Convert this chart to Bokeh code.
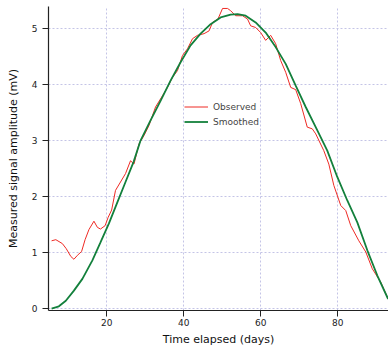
from bokeh.plotting import figure
from bokeh.models import Range1d, FixedTicker, Legend, LegendItem
from bokeh.embed import file_html
from bokeh.resources import INLINE

# Observed (noisy) series
obs_x = [5.7, 6.8, 8.5, 9.5, 10.7, 11.5, 12.4, 13.5, 14.4, 15.4, 16.7, 17.6, 18.4, 19.6,
         20.4, 21.3, 22.3, 23.6, 24.9, 26.2, 27.1, 28.4, 29.7, 31.0, 32.7, 34.5, 35.8,
         37.1, 38.4, 39.7, 41.0, 42.3, 43.6, 45.3, 46.6, 47.5, 48.9, 50.1, 51.4, 52.2,
         53.5, 55.3, 56.6, 57.4, 58.7, 60.0, 61.3, 62.6, 63.9, 65.2, 66.5, 67.8, 69.1,
         70.4, 72.1, 73.4, 74.3, 76.4, 77.7, 79.0, 80.8, 82.1, 83.4, 85.5, 87.3, 89.0,
         91.2, 93.1]
obs_y = [1.21, 1.23, 1.16, 1.07, 0.93, 0.88, 0.95, 1.02, 1.23, 1.41, 1.56, 1.45, 1.42, 1.48,
         1.63, 1.76, 2.11, 2.26, 2.41, 2.64, 2.58, 2.94, 3.09, 3.27, 3.60, 3.80, 3.95,
         4.13, 4.25, 4.52, 4.64, 4.82, 4.88, 4.91, 4.96, 5.11, 5.17, 5.36, 5.36, 5.32,
         5.23, 5.23, 5.17, 5.05, 5.02, 4.93, 4.79, 4.88, 4.73, 4.43, 4.22, 3.95, 3.91,
         3.66, 3.24, 3.21, 3.12, 2.82, 2.58, 2.20, 1.84, 1.75, 1.48, 1.21, 1.01, 0.71,
         0.47, 0.17]

# Smoothed series
fit_x = [5.7, 7.6, 9.4, 11.5, 13.7, 16.3, 18.4, 20.6, 22.8, 24.9, 27.0, 28.8, 31.4, 34.0,
         36.6, 39.2, 41.8, 44.4, 47.0, 49.6, 52.2, 54.0, 56.1, 58.7, 61.3, 63.9, 66.5,
         69.1, 71.7, 74.3, 77.3, 79.9, 82.5, 85.1, 87.7, 90.3, 93.1]
fit_y = [0.00, 0.04, 0.14, 0.32, 0.53, 0.86, 1.18, 1.52, 1.90, 2.26, 2.62, 3.00, 3.36, 3.71,
         4.07, 4.40, 4.70, 4.91, 5.08, 5.20, 5.25, 5.26, 5.23, 5.11, 4.93, 4.67, 4.37,
         3.98, 3.60, 3.24, 2.82, 2.35, 1.93, 1.54, 1.04, 0.59, 0.17]

x_ticks = [20, 40, 60, 80]
y_ticks = [0, 1, 2, 3, 4, 5]
series_names = ["Observed", "Smoothed"]
x_title = "Time elapsed (days)"
y_title = "Measured signal amplitude (mV)"

p = figure(width=388, height=354, output_backend="svg", toolbar_location=None,
           x_range=Range1d(4.9, 93.2), y_range=Range1d(-0.035, 5.395),
           min_border_left=48, min_border_right=0, min_border_top=6, min_border_bottom=44)
p.outline_line_color = None
p.background_fill_color = "white"

r1 = p.line(obs_x, obs_y, line_color="#ee2a24", line_width=1)
r2 = p.line(fit_x, fit_y, line_color="#13803c", line_width=1.8)

p.xaxis.ticker = FixedTicker(ticks=x_ticks)
p.yaxis.ticker = FixedTicker(ticks=y_ticks)
for ax in (p.xaxis, p.yaxis):
    ax.major_tick_out = 6
    ax.major_tick_in = 0
    ax.minor_tick_out = 0
    ax.minor_tick_in = 0
    ax.axis_line_color = "#222222"
    ax.major_tick_line_color = "#222222"
    ax.axis_line_width = 1.2
    ax.major_label_text_font_size = "9px"
    ax.major_label_text_color = "#222222"
    ax.axis_label_text_font_size = "11px"
    ax.axis_label_text_font_style = "normal"
    ax.axis_label_text_color = "#111111"
    ax.major_label_text_font = "DejaVu Sans"
    ax.axis_label_text_font = "DejaVu Sans"
p.xaxis.axis_label = x_title
p.yaxis.axis_label = y_title
p.xaxis.major_label_standoff = 2
p.yaxis.major_label_standoff = 5
p.xaxis.axis_label_standoff = 4
p.yaxis.axis_label_standoff = 9

p.grid.grid_line_color = "#c4c4e6"
p.grid.grid_line_dash = "2 2"
p.grid.grid_line_width = 1

legend = Legend(items=[LegendItem(label=series_names[0], renderers=[r1]),
                       LegendItem(label=series_names[1], renderers=[r2])],
                location=(136, 181), border_line_color=None, background_fill_alpha=0,
                label_text_font_size="9px", label_text_font="DejaVu Sans",
                glyph_width=24, spacing=0, label_height=15, glyph_height=15,
                padding=4, margin=0)
p.add_layout(legend, "center")

open("out.html", "w").write(file_html(p, INLINE))
